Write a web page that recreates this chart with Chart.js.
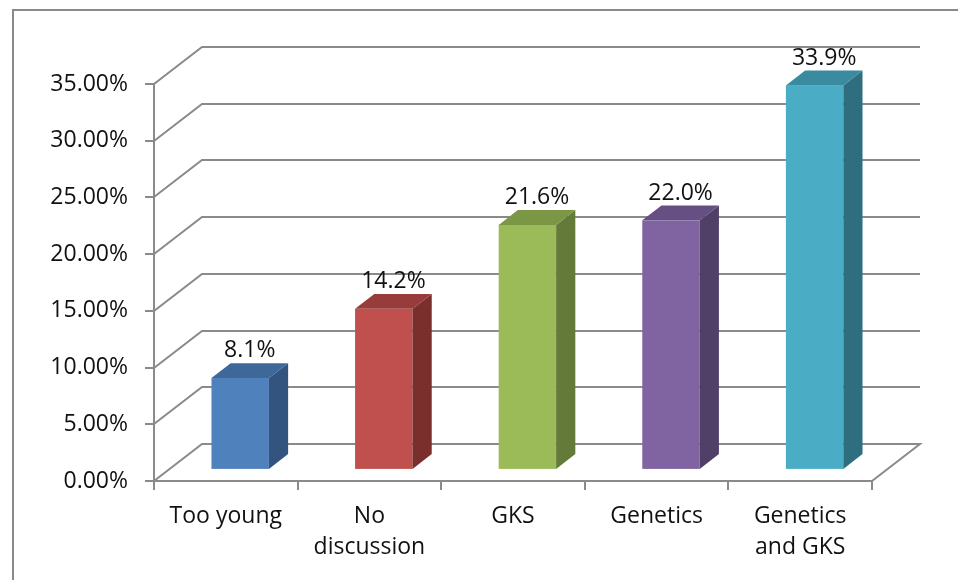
<!DOCTYPE html>
<html>
<head>
<meta charset="utf-8">
<script src="https://cdn.jsdelivr.net/npm/chart.js@4.4.1/dist/chart.umd.min.js"></script>
<style>
  html, body { margin: 0; padding: 0; background: #ffffff; }
  #wrap { width: 958px; height: 580px; position: relative; }
</style>
</head>
<body>
<div id="wrap"><canvas id="chart" width="958" height="580"></canvas></div>
<script>
// Reasons given (share of respondents, %)
const categories = [['Too young'], ['No', 'discussion'], ['GKS'], ['Genetics'], ['Genetics', 'and GKS']];
const shares = [8.1, 14.2, 21.6, 22.0, 33.9];
const axisMax = 35;
const axisStep = 5;

// Face colours of each column: front, right side, top
const frontColors = ['#4F81BD', '#C0504D', '#9BBB59', '#8064A2', '#4BACC6'];
const sideColors  = ['#32547E', '#7B2F2D', '#647A38', '#504068', '#2F6E7F'];
const topColors   = ['#3D6899', '#973C3A', '#7B9746', '#654F83', '#3A8AA0'];

// Perspective of the 3D box (depth vector) and where columns sit within it
const DEPTH_DX = 48, DEPTH_DY = -37;
const COL_FRONT = 0.30, COL_BACK = 0.70;
const LINE = '#8a8a8a';
const FONT = { family: "'Open Sans', 'Noto Sans', sans-serif", size: 23 };

const box3d = {
  id: 'box3d',
  beforeDraw(chart) {
    const ctx = chart.ctx;
    ctx.save();
    ctx.fillStyle = '#ffffff';
    ctx.fillRect(0, 0, chart.width, chart.height);
    ctx.strokeStyle = LINE;
    ctx.lineWidth = 2;
    ctx.strokeRect(13, 10, 2000, 2000);
    ctx.restore();
  },
  beforeDatasetsDraw(chart) {
    const ctx = chart.ctx;
    const ys = chart.scales.y;
    const { left, right } = chart.chartArea;
    ctx.save();
    ctx.strokeStyle = LINE;
    ctx.lineWidth = 2;
    ctx.lineJoin = 'miter';
    ys.ticks.forEach(t => {
      const y = Math.round(ys.getPixelForValue(t.value));
      ctx.beginPath();
      ctx.moveTo(left, y);
      ctx.lineTo(left + DEPTH_DX, y + DEPTH_DY);
      ctx.lineTo(right + DEPTH_DX, y + DEPTH_DY);
      if (t.value === 0) ctx.lineTo(right, y);
      ctx.stroke();
    });
    ctx.restore();
  },
  afterDatasetsDraw(chart) {
    const ctx = chart.ctx;
    const meta = chart.getDatasetMeta(0);
    const fx = DEPTH_DX * COL_FRONT, fy = DEPTH_DY * COL_FRONT;
    const bx = DEPTH_DX * (COL_BACK - COL_FRONT), by = DEPTH_DY * (COL_BACK - COL_FRONT);
    ctx.save();
    meta.data.forEach((bar, i) => {
      const { x, y, base, width } = bar.getProps(['x', 'y', 'base', 'width'], true);
      const x0 = x - width / 2 + fx, x1 = x + width / 2 + fx;
      const yt = y + fy, yb = base + fy;
      // front face
      ctx.fillStyle = frontColors[i];
      ctx.fillRect(x0, yt, x1 - x0, yb - yt);
      // right side
      ctx.fillStyle = sideColors[i];
      ctx.beginPath();
      ctx.moveTo(x1, yt);
      ctx.lineTo(x1 + bx, yt + by);
      ctx.lineTo(x1 + bx, yb + by);
      ctx.lineTo(x1, yb);
      ctx.closePath();
      ctx.fill();
      // top
      ctx.fillStyle = topColors[i];
      ctx.beginPath();
      ctx.moveTo(x0, yt);
      ctx.lineTo(x0 + bx, yt + by);
      ctx.lineTo(x1 + bx, yt + by);
      ctx.lineTo(x1, yt);
      ctx.closePath();
      ctx.fill();
      // value label above the column
      ctx.fillStyle = '#111111';
      ctx.font = `${FONT.size}px ${FONT.family}`;
      ctx.textAlign = 'center';
      ctx.textBaseline = 'alphabetic';
      ctx.fillText(shares[i].toFixed(1) + '%', (x0 + x1) / 2 + bx / 2, yt + by - 6);
    });
    ctx.restore();
  }
};

new Chart(document.getElementById('chart'), {
  type: 'bar',
  data: {
    labels: categories,
    datasets: [{
      data: shares,
      backgroundColor: 'rgba(0,0,0,0)',
      borderWidth: 0,
      categoryPercentage: 1,
      barPercentage: 0.40
    }]
  },
  options: {
    responsive: false,
    animation: false,
    events: [],
    layout: { padding: { top: 84, right: 86, bottom: 0, left: 0 } },
    plugins: { legend: { display: false }, tooltip: { enabled: false } },
    scales: {
      x: {
        type: 'category',
        offset: true,
        grid: { offset: true, drawOnChartArea: false, drawTicks: true, tickLength: 9, color: LINE, lineWidth: 2 },
        border: { display: true, color: LINE, width: 2 },
        ticks: { color: '#111111', font: { ...FONT, lineHeight: 1.35 }, padding: 11, maxRotation: 0, autoSkip: false },
        afterFit(scale) { scale.height = 99; }
      },
      y: {
        min: 0,
        max: axisMax,
        grid: { drawOnChartArea: false, drawTicks: true, tickLength: 9, color: LINE, lineWidth: 2 },
        border: { display: true, color: LINE, width: 2 },
        ticks: {
          stepSize: axisStep,
          color: '#111111',
          font: FONT,
          padding: 17,
          callback: v => Number(v).toFixed(2) + '%'
        },
        afterFit(scale) { scale.width = 154; }
      }
    }
  },
  plugins: [box3d]
});
</script>
</body>
</html>
